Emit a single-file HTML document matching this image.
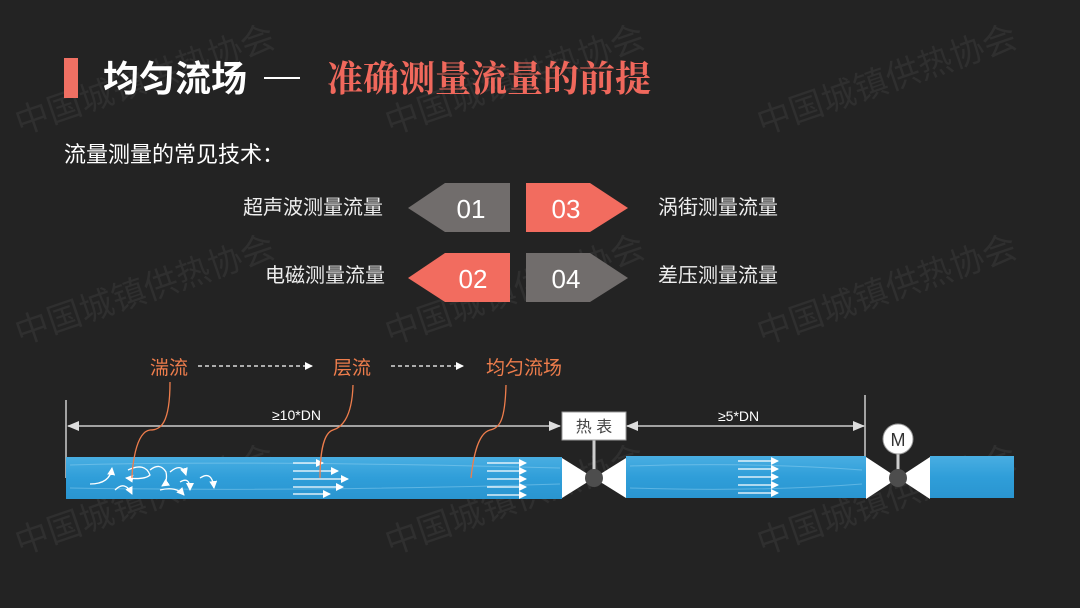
<!DOCTYPE html>
<html><head><meta charset="utf-8"><style>
html,body{margin:0;padding:0;background:#232323;}
svg{display:block;}
</style></head><body>
<svg width="1080" height="608" viewBox="0 0 1080 608" xmlns="http://www.w3.org/2000/svg" font-family="'Liberation Sans','Noto Sans CJK SC',sans-serif">
<defs>
<linearGradient id="pipe" x1="0" y1="0" x2="0" y2="1">
<stop offset="0" stop-color="#49aee2"/><stop offset="0.5" stop-color="#2f9ed9"/><stop offset="1" stop-color="#2a95d0"/>
</linearGradient>
<marker id="ah" markerWidth="8" markerHeight="8" refX="7" refY="4" orient="auto" markerUnits="userSpaceOnUse"><path d="M0,0 L8,4 L0,8 z" fill="#fff"/></marker>
<marker id="ag" markerWidth="12" markerHeight="12" refX="11" refY="6" orient="auto-start-reverse" markerUnits="userSpaceOnUse"><path d="M0,1 L12,6 L0,11 z" fill="#ddd"/></marker>
</defs>
<rect width="1080" height="608" fill="#232323"/>
<g fill="#2f2f2f" font-size="34" font-family="'Noto Sans CJK SC',sans-serif">
<text transform="translate(20,135) rotate(-19)">中国城镇供热协会</text>
<text transform="translate(390,135) rotate(-19)">中国城镇供热协会</text>
<text transform="translate(762,135) rotate(-19)">中国城镇供热协会</text>
<text transform="translate(20,345) rotate(-19)">中国城镇供热协会</text>
<text transform="translate(390,345) rotate(-19)">中国城镇供热协会</text>
<text transform="translate(762,345) rotate(-19)">中国城镇供热协会</text>
<text transform="translate(20,555) rotate(-19)">中国城镇供热协会</text>
<text transform="translate(390,555) rotate(-19)">中国城镇供热协会</text>
<text transform="translate(762,555) rotate(-19)">中国城镇供热协会</text>
</g>
<rect x="64" y="58" width="14" height="40" fill="#f07063"/>
<text x="103" y="91" font-size="36" font-weight="bold" fill="#fff">均匀流场</text>
<rect x="264" y="77" width="36" height="2" fill="#fff"/>
<text x="327" y="91" font-size="36" font-weight="bold" fill="#f0685c" font-family="'Noto Serif CJK SC',serif">准确测量流量的前提</text>
<text x="64" y="162" font-size="22" fill="#fff">流量测量的常见技术：</text>
<polygon points="408,208 445,183 510,183 510,232 445,232" fill="#716d6c"/>
<polygon points="526,183 590,183 628,208 590,232 526,232" fill="#f26c5f"/>
<polygon points="408,278 445,253 510,253 510,302 445,302" fill="#f26c5f"/>
<polygon points="526,253 590,253 628,278 590,302 526,302" fill="#716d6c"/>
<g fill="#fff" font-size="26" text-anchor="middle">
<text x="471" y="218">01</text><text x="566" y="218">03</text>
<text x="473" y="288">02</text><text x="566" y="288">04</text>
</g>
<g fill="#eee" font-size="20">
<text x="383" y="214" text-anchor="end">超声波测量流量</text>
<text x="385" y="282" text-anchor="end">电磁测量流量</text>
<text x="658" y="214">涡街测量流量</text>
<text x="658" y="282">差压测量流量</text>
</g>
<g fill="#ee7d4c" font-size="19">
<text x="150" y="374">湍流</text><text x="333" y="374">层流</text><text x="486" y="374">均匀流场</text>
</g>
<g stroke="#fff" stroke-width="1.3" stroke-dasharray="4,3" fill="none">
<line x1="198" y1="366" x2="312" y2="366" marker-end="url(#ah)"/>
<line x1="391" y1="366" x2="463" y2="366" marker-end="url(#ah)"/>
</g>
<line x1="66" y1="400" x2="66" y2="478" stroke="#ccc" stroke-width="1.5"/>
<line x1="68" y1="426" x2="560" y2="426" stroke="#ccc" stroke-width="1.5" marker-start="url(#ag)" marker-end="url(#ag)"/>
<text x="272" y="420" font-size="14" fill="#fff">≥10*DN</text>
<line x1="865" y1="395" x2="865" y2="456" stroke="#ccc" stroke-width="1.5"/>
<line x1="627" y1="426" x2="864" y2="426" stroke="#ccc" stroke-width="1.5" marker-start="url(#ag)" marker-end="url(#ag)"/>
<text x="718" y="421" font-size="14" fill="#fff">≥5*DN</text>
<rect x="66" y="457" width="496" height="42" fill="url(#pipe)"/>
<rect x="626" y="456" width="240" height="42" fill="url(#pipe)"/>
<rect x="930" y="456" width="84" height="42" fill="url(#pipe)"/>
<g stroke="#8fd0f0" stroke-width="1" opacity="0.5" fill="none">
<path d="M70,465 Q250,460 560,468"/><path d="M70,488 Q300,492 560,484"/><path d="M630,466 Q750,462 862,470"/><path d="M630,488 Q760,492 862,484"/>
</g>
<polygon points="562,458 594,478 562,498" fill="#fff"/><polygon points="626,458 594,478 626,498" fill="#fff"/>
<line x1="594" y1="440" x2="594" y2="478" stroke="#ccc" stroke-width="3"/>
<circle cx="594" cy="478" r="9" fill="#4d4d4d"/>
<rect x="562" y="412" width="64" height="28" fill="#fff" stroke="#999"/>
<text x="594" y="432" font-size="16" fill="#444" text-anchor="middle">热 表</text>
<polygon points="866,457 898,478 866,499" fill="#fff"/><polygon points="930,457 898,478 930,499" fill="#fff"/>
<line x1="898" y1="452" x2="898" y2="478" stroke="#ccc" stroke-width="3"/>
<circle cx="898" cy="478" r="9" fill="#4d4d4d"/>
<circle cx="898" cy="439" r="15" fill="#fff" stroke="#999"/>
<text x="898" y="446" font-size="18" fill="#333" text-anchor="middle">M</text>
<g stroke="#fff" stroke-width="1.3" fill="none">
<line x1="293" y1="463" x2="323" y2="463" marker-end="url(#ah)"/>
<line x1="293" y1="471" x2="338" y2="471" marker-end="url(#ah)"/>
<line x1="293" y1="479" x2="348" y2="479" marker-end="url(#ah)"/>
<line x1="293" y1="487" x2="343" y2="487" marker-end="url(#ah)"/>
<line x1="293" y1="494" x2="330" y2="494" marker-end="url(#ah)"/>
<line x1="487" y1="463" x2="526" y2="463" marker-end="url(#ah)"/>
<line x1="487" y1="471" x2="526" y2="471" marker-end="url(#ah)"/>
<line x1="487" y1="479" x2="526" y2="479" marker-end="url(#ah)"/>
<line x1="487" y1="487" x2="526" y2="487" marker-end="url(#ah)"/>
<line x1="487" y1="495" x2="526" y2="495" marker-end="url(#ah)"/>
<line x1="738" y1="461" x2="778" y2="461" marker-end="url(#ah)"/>
<line x1="738" y1="469" x2="778" y2="469" marker-end="url(#ah)"/>
<line x1="738" y1="477" x2="778" y2="477" marker-end="url(#ah)"/>
<line x1="738" y1="485" x2="778" y2="485" marker-end="url(#ah)"/>
<line x1="738" y1="493" x2="778" y2="493" marker-end="url(#ah)"/>
<path d="M90,484 Q110,484 112,468" marker-end="url(#ah)"/>
<path d="M128,470 Q145,462 150,475 Q145,480 126,478" marker-end="url(#ah)"/>
<path d="M150,470 Q160,462 166,472 Q168,482 162,486" marker-end="url(#ah)"/>
<path d="M170,472 Q182,462 186,475" marker-end="url(#ah)"/>
<path d="M180,482 Q190,476 190,490" marker-end="url(#ah)"/>
<path d="M115,490 Q125,480 132,494" marker-end="url(#ah)"/>
<path d="M160,490 Q176,486 184,495" marker-end="url(#ah)"/>
<path d="M200,478 Q212,470 214,488" marker-end="url(#ah)"/>
</g>
<g stroke="#ee7d4c" stroke-width="1.3" fill="none">
<path d="M170,382 C170,425 160,430 150,430 C135,432 132,470 132,478"/>
<path d="M353,385 C352,420 340,428 333,430 C320,434 320,470 320,478"/>
<path d="M506,385 C505,420 500,428 490,430 C475,434 472,470 471,478"/>
</g>
</svg>
</body></html>
